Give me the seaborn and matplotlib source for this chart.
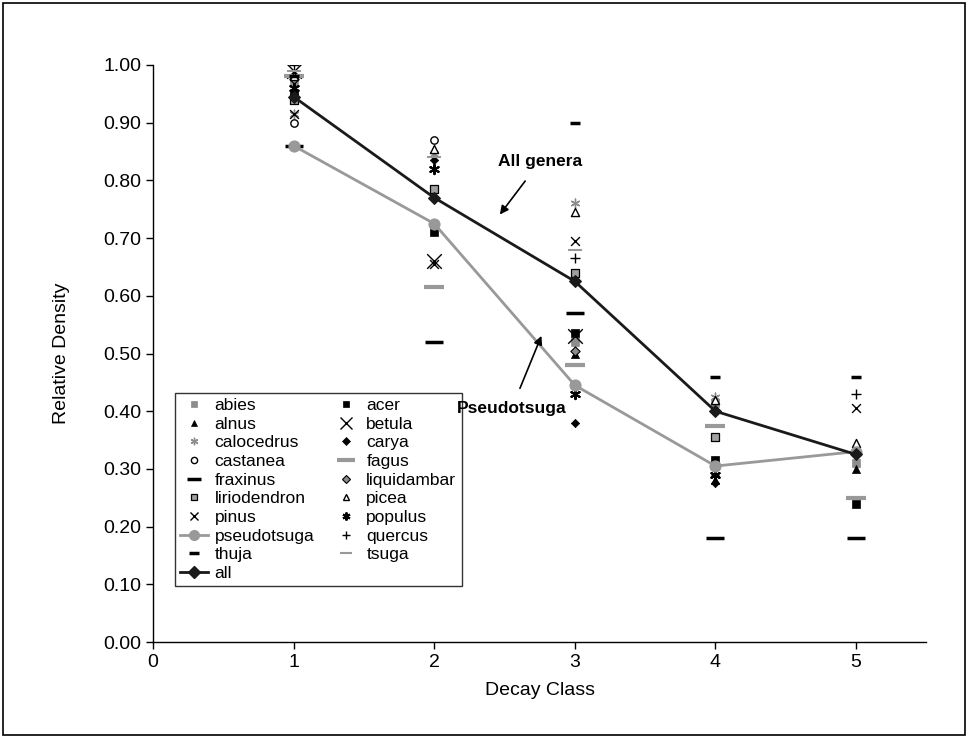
import numpy as np
import pandas as pd
import matplotlib
matplotlib.use('Agg')
import matplotlib.pyplot as plt
import seaborn as sns
from matplotlib.patches import Rectangle

decay_class = [1, 2, 3, 4, 5]
nan = np.nan

# relative density per genus (nan = not shown)
abies = [0.97, nan, 0.52, 0.415, 0.31]
acer = [0.95, 0.71, 0.535, 0.315, 0.24]
alnus = [0.985, nan, 0.50, 0.28, 0.30]
betula = [0.99, 0.66, 0.53, nan, nan]
calocedrus = [0.915, 0.845, 0.76, 0.425, nan]
carya = [0.95, 0.835, 0.38, 0.275, nan]
castanea = [0.90, 0.87, nan, nan, nan]
fagus = [0.98, 0.615, 0.48, 0.375, 0.25]
fraxinus = [0.86, 0.52, 0.57, 0.18, 0.18]
liquidambar = [0.975, nan, 0.505, nan, nan]
liriodendron = [0.94, 0.785, 0.64, 0.355, nan]
picea = [0.98, 0.855, 0.745, 0.42, 0.345]
pinus = [0.915, 0.655, 0.695, 0.295, 0.405]
populus = [0.96, 0.82, 0.43, 0.29, nan]
quercus = [1.00, nan, 0.665, nan, 0.43]
thuja = [0.98, nan, 0.90, 0.46, 0.46]
tsuga = [0.99, 0.84, 0.68, nan, nan]
pseudotsuga = [0.86, 0.725, 0.445, 0.305, 0.33]
all_genera = [0.945, 0.77, 0.625, 0.40, 0.325]

genera = {
    'abies': abies, 'acer': acer, 'alnus': alnus, 'betula': betula,
    'calocedrus': calocedrus, 'carya': carya, 'castanea': castanea,
    'fagus': fagus, 'fraxinus': fraxinus, 'liquidambar': liquidambar,
    'liriodendron': liriodendron, 'picea': picea, 'pinus': pinus,
    'populus': populus, 'quercus': quercus, 'thuja': thuja, 'tsuga': tsuga,
}

# marker styles: marker, size, face, edge, linewidth
styles = {
    'abies': ('s', 26, '#8c8c8c', '#8c8c8c', 0.5),
    'acer': ('s', 28, 'black', 'black', 0.5),
    'alnus': ('^', 34, 'black', 'black', 0.5),
    'betula': ('x', 110, 'black', 'black', 1.0),
    'calocedrus': ((6, 2, 0), 40, '#8c8c8c', '#8c8c8c', 1.0),
    'carya': ('D', 18, 'black', 'black', 0.5),
    'castanea': ('o', 28, 'white', 'black', 1.0),
    'fagus': ('_', 220, '#999999', '#999999', 3.0),
    'fraxinus': ('_', 150, 'black', 'black', 2.5),
    'liquidambar': ('D', 22, '#8c8c8c', 'black', 0.8),
    'liriodendron': ('s', 30, '#a0a0a0', 'black', 0.9),
    'picea': ('^', 34, 'white', 'black', 1.0),
    'pinus': ('x', 40, 'black', 'black', 1.0),
    'populus': ((6, 2, 0), 45, 'black', 'black', 1.5),
    'quercus': ('+', 55, 'black', 'black', 1.0),
    'thuja': ('_', 60, 'black', 'black', 2.5),
    'tsuga': ('_', 90, '#999999', '#999999', 1.5),
}

plt.rcParams['font.family'] = ['Liberation Sans', 'DejaVu Sans']

fig = plt.figure(figsize=(9.68, 7.38), dpi=100)
ax = fig.add_axes([0.158, 0.130, 0.799, 0.782])

handles = {}
for name, vals in genera.items():
    df = pd.DataFrame({'cls': decay_class, 'rd': vals}).dropna()
    m, s, fc, ec, lw = styles[name]
    sns.scatterplot(data=df, x='cls', y='rd', ax=ax, marker=m, s=s,
                    color=fc, edgecolor=ec, linewidth=lw, label=name,
                    zorder=3, legend=False)
    handles[name] = plt.Line2D([], [], ls='none', marker=m,
                               markersize=np.sqrt(s) * 0.85,
                               markerfacecolor=fc, markeredgecolor=ec,
                               markeredgewidth=lw, color=ec)

lines_df = pd.DataFrame({'cls': decay_class * 2,
                         'rd': pseudotsuga + all_genera,
                         'grp': ['pseudotsuga'] * 5 + ['all'] * 5})
sns.lineplot(data=lines_df[lines_df.grp == 'pseudotsuga'], x='cls', y='rd',
             ax=ax, color='#999999', lw=2, marker='o', markersize=8,
             markeredgecolor='#999999', zorder=4, legend=False)
sns.lineplot(data=lines_df[lines_df.grp == 'all'], x='cls', y='rd',
             ax=ax, color='#1a1a1a', lw=2, marker='D', markersize=6.5,
             markeredgecolor='#1a1a1a', zorder=5, legend=False)
handles['pseudotsuga'] = plt.Line2D([], [], color='#999999', lw=2,
                                    marker='o', markersize=7)
handles['all'] = plt.Line2D([], [], color='#1a1a1a', lw=2,
                            marker='D', markersize=6)

# legend in row order: left column first (column-major fill)
left_col = ['abies', 'alnus', 'calocedrus', 'castanea', 'fraxinus',
            'liriodendron', 'pinus', 'pseudotsuga', 'thuja', 'all']
right_col = ['acer', 'betula', 'carya', 'fagus', 'liquidambar',
             'picea', 'populus', 'quercus', 'tsuga']
order = left_col + right_col
leg = ax.legend([handles[k] for k in order], order, ncol=2,
                loc='lower left', bbox_to_anchor=(0.028, 0.097),
                fontsize=12.5, frameon=True, fancybox=False,
                edgecolor='black', labelspacing=0.2, handlelength=1.6,
                handletextpad=0.4, columnspacing=1.0, borderpad=0.3,
                borderaxespad=0)
leg.get_frame().set_linewidth(1.0)
leg.set_zorder(7)

ax.annotate('All genera', xy=(2.455, 0.737), xytext=(2.75, 0.832),
            fontsize=12.5, fontweight='bold', ha='center', va='center',
            zorder=8,
            arrowprops=dict(arrowstyle='-|>', color='black', lw=1.2,
                            shrinkA=8))
ax.annotate('Pseudotsuga', xy=(2.77, 0.535), xytext=(2.55, 0.404),
            fontsize=12.5, fontweight='bold', ha='center', va='center',
            zorder=8,
            arrowprops=dict(arrowstyle='-|>', color='black', lw=1.2,
                            shrinkA=8))

ax.set_xlim(0, 5.5)
ax.set_ylim(0, 1.0)
ax.set_xticks(range(0, 6))
ax.set_yticks(np.arange(0, 1.01, 0.1))
ax.set_yticklabels([f'{v:.2f}' for v in np.arange(0, 1.01, 0.1)])
ax.tick_params(labelsize=14, direction='out', length=5, width=1)
ax.set_xlabel('Decay Class', fontsize=14, labelpad=8)
ax.set_ylabel('Relative Density', fontsize=14, labelpad=24)
sns.despine(ax=ax)
ax.spines['left'].set_linewidth(1)
ax.spines['bottom'].set_linewidth(1)

fig.patches.append(Rectangle((0.003, 0.004), 0.994, 0.992, transform=fig.transFigure,
                             fill=False, edgecolor='black', lw=1.2))

fig.savefig('out.png', dpi=100)
